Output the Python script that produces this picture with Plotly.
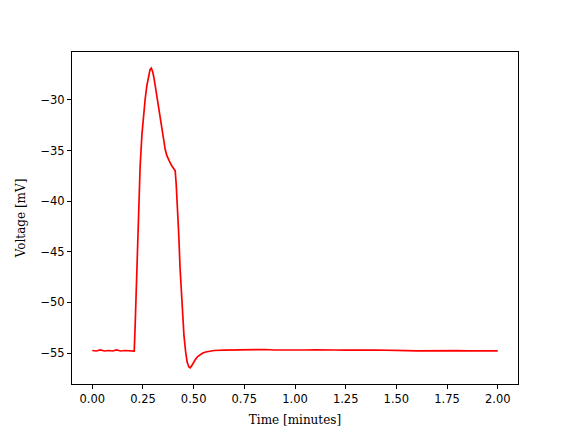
import plotly.graph_objects as go

# Time (minutes) and voltage (mV)
time_min = [
    0.00, 0.02, 0.04, 0.06, 0.08, 0.10, 0.12, 0.14, 0.16, 0.18, 0.20, 0.207,
    0.212, 0.220, 0.228, 0.236, 0.245, 0.253, 0.261, 0.269, 0.277, 0.285, 0.291,
    0.298, 0.305, 0.312, 0.320, 0.328, 0.336, 0.344, 0.352, 0.360, 0.368, 0.376,
    0.384, 0.392, 0.400, 0.409, 0.414, 0.420, 0.427, 0.433, 0.440, 0.446, 0.452,
    0.460, 0.468, 0.476, 0.483, 0.492, 0.500, 0.510, 0.520, 0.532, 0.545, 0.560,
    0.573, 0.60, 0.65, 0.70, 0.75, 0.80, 0.85, 0.90, 0.95, 1.00, 1.05, 1.10,
    1.15, 1.20, 1.25, 1.30, 1.35, 1.40, 1.45, 1.50, 1.55, 1.60, 1.65, 1.70,
    1.75, 1.80, 1.85, 1.90, 1.95, 2.00,
]
voltage_mv = [
    -54.75, -54.80, -54.70, -54.80, -54.75, -54.80, -54.70, -54.80, -54.75, -54.80, -54.80, -54.80,
    -52.0, -47.0, -41.6, -36.6, -33.4, -31.4, -29.9, -28.6, -27.6, -27.0, -26.85,
    -27.2, -27.9, -28.8, -29.9, -31.0, -32.1, -33.1, -34.0, -34.9, -35.5, -35.9,
    -36.2, -36.5, -36.7, -37.0, -38.3, -40.2, -43.5, -46.6, -49.5, -51.5, -53.2,
    -54.8, -55.9, -56.35, -56.45, -56.2, -55.9, -55.6, -55.35, -55.15, -55.0, -54.9,
    -54.85, -54.75, -54.72, -54.70, -54.72, -54.68, -54.65, -54.70, -54.72, -54.72, -54.70,
    -54.68, -54.72, -54.70, -54.72, -54.75, -54.72, -54.70, -54.74, -54.72, -54.76, -54.78,
    -54.76, -54.75, -54.78, -54.76, -54.78, -54.77, -54.78, -54.78,
]

x_tickvals = [0.0, 0.25, 0.5, 0.75, 1.0, 1.25, 1.5, 1.75, 2.0]
x_ticktext = ["0.00", "0.25", "0.50", "0.75", "1.00", "1.25", "1.50", "1.75", "2.00"]
y_tickvals = [-30, -35, -40, -45, -50, -55]
y_ticktext = ["\u221230", "\u221235", "\u221240", "\u221245", "\u221250", "\u221255"]

fig = go.Figure()
fig.add_trace(go.Scatter(
    x=time_min, y=voltage_mv, mode="lines",
    line=dict(color="red", width=1.7), showlegend=False,
))

axis_common = dict(
    showgrid=False, zeroline=False, showline=True, linecolor="black", linewidth=1,
    mirror=True, ticks="outside", ticklen=4, tickwidth=1, tickcolor="black",
    tickfont=dict(family="DejaVu Sans", size=11.5, color="black"),
    automargin=False,
)

fig.update_layout(
    width=568, height=424,
    margin=dict(l=64, r=58, t=44, b=48),
    paper_bgcolor="white", plot_bgcolor="white",
    xaxis=dict(
        range=[-0.1, 2.1], tickvals=x_tickvals, ticktext=x_ticktext,
        title=dict(text="Time [minutes]", font=dict(family="DejaVu Serif", size=12, color="black"), standoff=10),
        **axis_common,
    ),
    yaxis=dict(
        range=[-58.06, -25.26], tickvals=y_tickvals, ticktext=y_ticktext,
        title=dict(text="Voltage [mV]", font=dict(family="DejaVu Serif", size=12, color="black"), standoff=12),
        **axis_common,
    ),
)

fig.write_html("out.html")
